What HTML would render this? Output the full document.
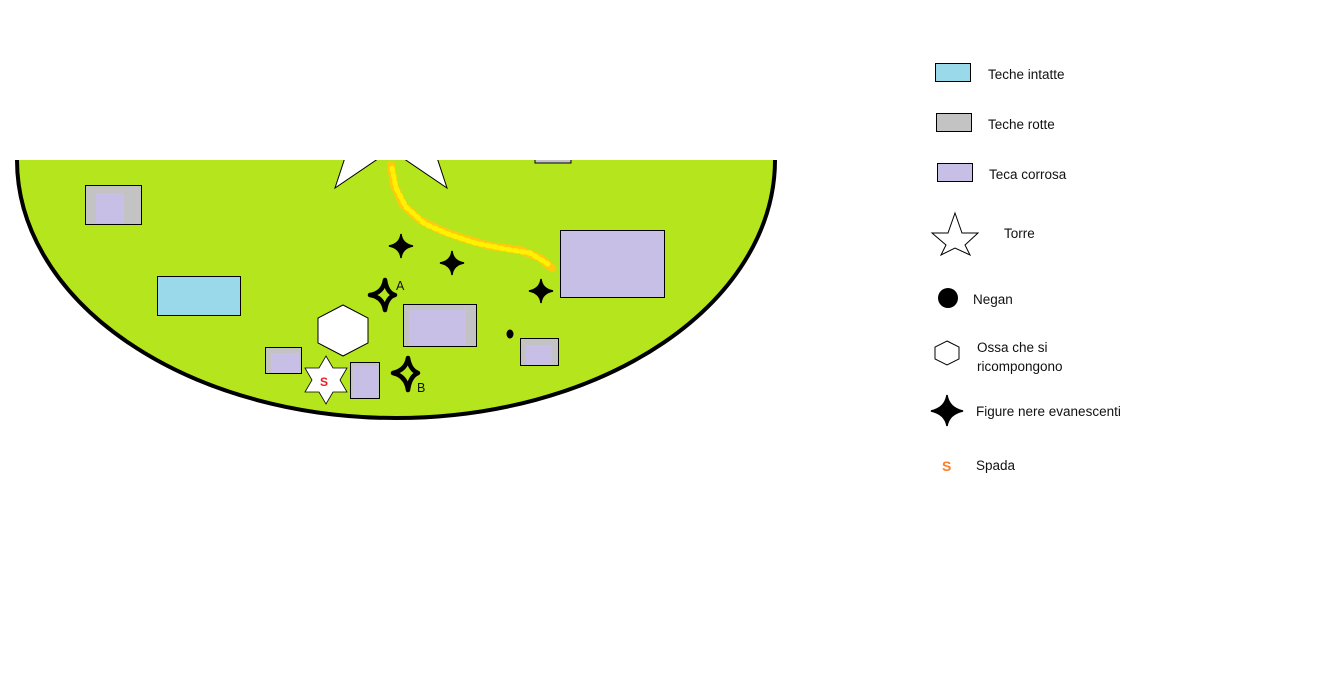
<!DOCTYPE html>
<html><head><meta charset="utf-8"><style>
html,body{margin:0;padding:0;background:#fff;}
svg{display:block;}
text{font-family:"Liberation Sans",sans-serif;font-size:13.5px;fill:#111;}
</style></head><body>
<svg width="1342" height="684" viewBox="0 0 1342 684" xmlns="http://www.w3.org/2000/svg">
<defs>
<clipPath id="half"><rect x="0" y="160" width="800" height="300"/></clipPath>
</defs>
<g clip-path="url(#half)">
<ellipse cx="396" cy="160" rx="379" ry="258" fill="#b5e61d" stroke="#000" stroke-width="4"/>
<polygon fill="#fff" stroke="#000" stroke-width="1" points="391,14 413,80 483,80 425,121 447,188 391,150 335,188 357,121 299,80 369,80"/>
<rect x="535" y="150" width="36" height="13" fill="#c3c3c3" stroke="#000" stroke-width="1"/>
</g>
<!-- trail -->
<path d="M391,165 L394,185 L403,205 L420,220 L440,230 L462,238 L490,246 L520,250 L540,258 L552,268" fill="none" stroke="#ffc90e" stroke-width="8" stroke-linecap="round" stroke-linejoin="round"/>
<path d="M392,168 L396,188 L406,207 L425,224 L448,234 L475,243 L505,249 L530,253 L548,264" fill="none" stroke="#fff200" stroke-width="5" stroke-linecap="round" stroke-dasharray="3 4"/>
<!-- rects -->
<rect x="85.5" y="185.5" width="56" height="39" fill="#c3c3c3" stroke="#000"/>
<rect x="96" y="193" width="28" height="30" fill="#c8bfe7"/>
<rect x="157.5" y="276.5" width="83" height="39" fill="#99d9ea" stroke="#000"/>
<rect x="560.5" y="230.5" width="104" height="67" fill="#c8bfe7" stroke="#000"/>
<rect x="403.5" y="304.5" width="73" height="42" fill="#c3c3c3" stroke="#000"/>
<rect x="409" y="310" width="57" height="36" fill="#c8bfe7"/>
<rect x="520.5" y="338.5" width="38" height="27" fill="#c3c3c3" stroke="#000"/>
<rect x="526" y="345" width="26" height="20" fill="#c8bfe7"/>
<rect x="265.5" y="347.5" width="36" height="26" fill="#c3c3c3" stroke="#000"/>
<rect x="271" y="353" width="28" height="20" fill="#c8bfe7"/>
<rect x="350.5" y="362.5" width="29" height="36" fill="#c3c3c3" stroke="#000"/>
<rect x="353" y="366" width="25" height="32" fill="#c8bfe7"/>
<!-- hexagon -->
<polygon points="343,305 368,318 368,343 343,356 318,343 318,318" fill="#fff" stroke="#000"/>
<!-- six star -->
<polygon points="326,356 333,368 347,368 340,380 347,392 333,392 326,404 319,392 305,392 312,380 305,368 319,368" fill="#fff" stroke="#000" stroke-width="0.8"/>
<text x="320" y="386" style="fill:#ed1c24;font-weight:bold;font-size:12px">S</text>
<!-- negan dot -->
<ellipse cx="510" cy="334" rx="3.5" ry="4.5" fill="#000"/>
<!-- small 4-point stars -->
<g fill="#000">
<path d="M401,234 Q402,244 413,246 Q402,248 401,258 Q400,248 389,246 Q400,244 401,234Z" stroke="#000" stroke-width="1.5"/>
<path d="M452,251 Q453,261 464,263 Q453,265 452,275 Q451,265 440,263 Q451,261 452,251Z" stroke="#000" stroke-width="1.5"/>
<path d="M541,279 Q542,289 553,291 Q542,293 541,303 Q540,293 529,291 Q540,289 541,279Z" stroke="#000" stroke-width="1.5"/>
</g>
<path d="M385,280 Q387,293 395,295 Q387,297 385,310 Q383,297 370,295 Q383,293 385,280Z" fill="#b5e61d" stroke="#000" stroke-width="4.5" stroke-linejoin="round"/>
<path d="M408,358 Q410,370 418,373 Q410,376 408,390 Q406,376 393,373 Q406,370 408,358Z" fill="#b5e61d" stroke="#000" stroke-width="4.5" stroke-linejoin="round"/>
<text x="396" y="290" style="font-size:12.5px">A</text>
<text x="417" y="392" style="font-size:12.5px">B</text>
<!-- legend -->
<rect x="935.5" y="63.5" width="35" height="18" fill="#99d9ea" stroke="#000"/>
<text x="988" y="79">Teche intatte</text>
<rect x="936.5" y="113.5" width="35" height="18" fill="#c3c3c3" stroke="#000"/>
<text x="988" y="129">Teche rotte</text>
<rect x="937.5" y="163.5" width="35" height="18" fill="#c8bfe7" stroke="#000"/>
<text x="989" y="179">Teca corrosa</text>
<polygon points="955,213 962,233 978,233 965,245 970,255 955,248 941,255 946,245 932,233 948,233" fill="#fff" stroke="#000" stroke-width="1"/>
<text x="1004" y="238">Torre</text>
<circle cx="948" cy="298" r="10" fill="#000"/>
<text x="973" y="304">Negan</text>
<polygon points="947,341 959,347 959,359 947,365 935,359 935,347" fill="#fff" stroke="#000"/>
<text x="977" y="352">Ossa che si</text>
<text x="977" y="371">ricompongono</text>
<path d="M947,395 Q949,408 963,411 Q949,414 947,426 Q945,414 931,411 Q945,408 947,395Z" fill="#000" stroke="#000" stroke-width="1.5"/>
<text x="976" y="416">Figure nere evanescenti</text>
<text x="942" y="471" style="fill:#ff7f27;font-weight:bold;font-size:14px">S</text>
<text x="976" y="470">Spada</text>
</svg>
</body></html>
